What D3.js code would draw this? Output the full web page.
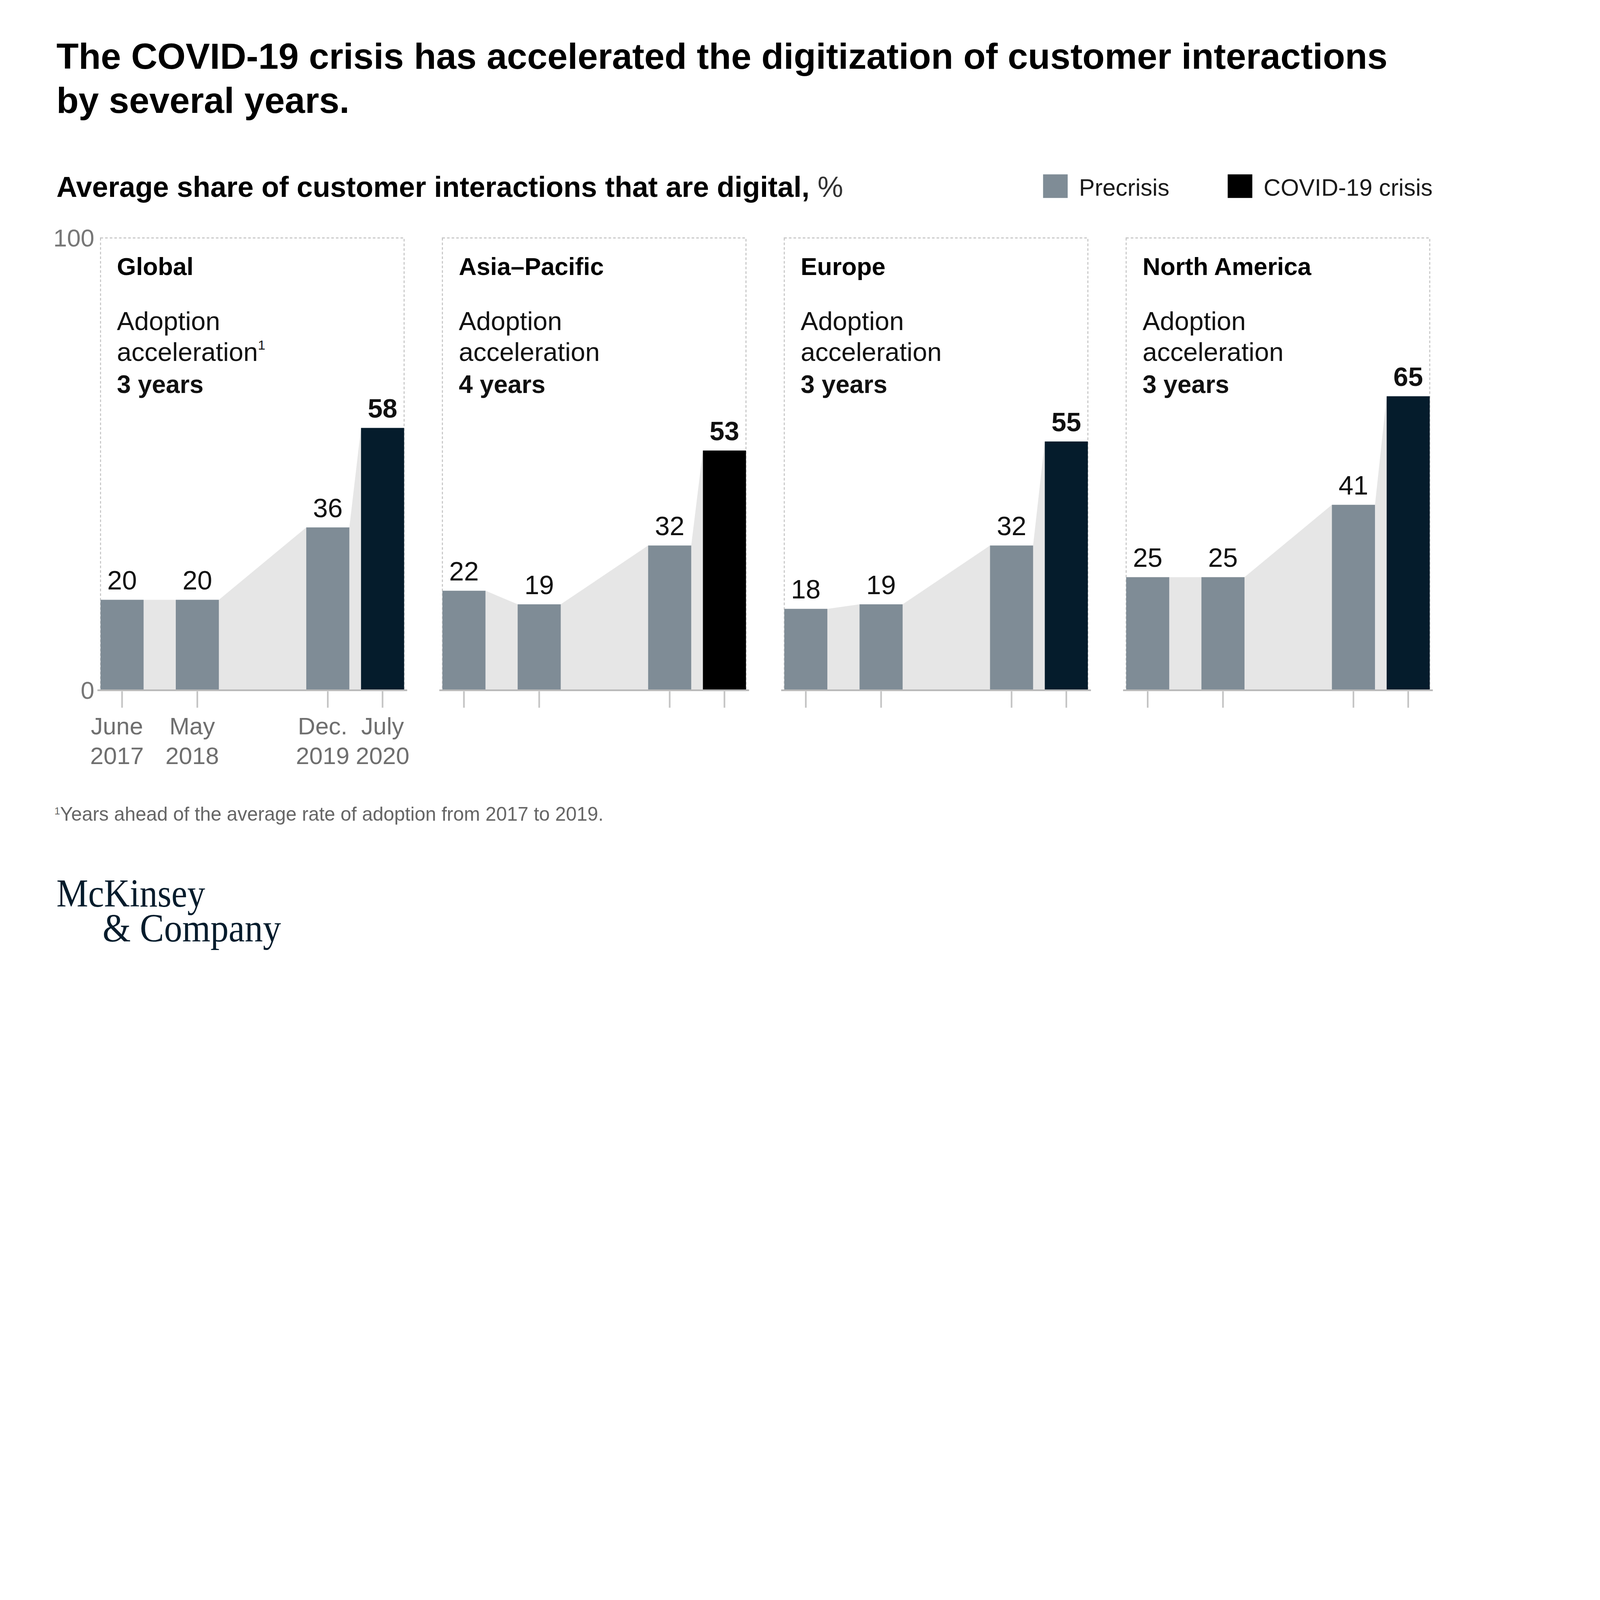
<!doctype html>
<html>
<head>
<meta charset="utf-8">
<title>COVID-19 and the digitization of customer interactions</title>
<script src="https://cdn.jsdelivr.net/npm/d3@7"></script>
<style>
  html, body { margin: 0; padding: 0; background: #fff; width: 100%; height: 100%; overflow: hidden; }
  svg { display: block; width: 100vw; height: 100vh; }
  text { font-family: "Liberation Sans", Arial, sans-serif; }
  text.logo { font-family: "Liberation Serif", "DejaVu Serif", serif; }
</style>
</head>
<body>
<svg id="chart" viewBox="0 0 1560 939.35" preserveAspectRatio="xMidYMin meet"></svg>
<script>
// data
var regions = ['Global', 'Asia\u2013Pacific', 'Europe', 'North America'];
var acceleration = ['3 years', '4 years', '3 years', '3 years'];
var surveyDates = ['2017-06-01', '2018-05-01', '2019-12-01', '2020-07-31'];
var tickLabels = [['June', '2017'], ['May', '2018'], ['Dec.', '2019'], ['July', '2020']];
var precrisis = [[20, 20, 36], [22, 19, 32], [18, 19, 32], [25, 25, 41]];
var covidCrisis = [58, 53, 55, 65];
var yTicks = [0, 100];
var legendLabels = ['Precrisis', 'COVID-19 crisis'];

var grey = '#7f8c96';
var navy = '#051c2c';
var covidColors = [navy, '#000000', navy, navy];

var svg = d3.select('#chart');
var parse = d3.timeParse('%Y-%m-%d');

function fitWidth(sel, w) {
  var len = sel.node().getComputedTextLength();
  var fs = parseFloat(sel.attr('font-size'));
  sel.attr('font-size', fs * w / len);
  return fs * w / len;
}

// title
var t1 = svg.append('text').attr('x', 55).attr('y', 67)
  .attr('font-size', 34).attr('font-weight', 700).attr('fill', '#000')
  .text('The COVID-19 crisis has accelerated the digitization of customer interactions');
var titleSize = fitWidth(t1, 1298);
svg.append('text').attr('x', 55).attr('y', 110)
  .attr('font-size', titleSize).attr('font-weight', 700).attr('fill', '#000')
  .text('by several years.');

// subtitle
var sub = svg.append('text').attr('x', 55).attr('y', 192)
  .attr('font-size', 26).attr('fill', '#000');
sub.append('tspan').attr('font-weight', 700).text('Average share of customer interactions that are digital,');
sub.append('tspan').attr('fill', '#333').text(' %');
fitWidth(sub, 767);

// legend
var legendX = [1017, 1197];
var legend = svg.append('g').selectAll('g').data(legendLabels).join('g')
  .attr('transform', function(d, i) { return 'translate(' + legendX[i] + ',170)'; });
legend.append('rect').attr('width', 24).attr('height', 23)
  .attr('fill', function(d, i) { return i === 0 ? grey : '#000'; });
legend.append('text').attr('x', 35).attr('y', 21).attr('font-size', 23)
  .attr('fill', '#1a1a1a').text(function(d) { return d; });

// scales
var y = d3.scaleLinear().domain([0, 100]).range([673, 232]);
var panelX = d3.scaleBand().domain(regions).range([98, 1394]).paddingInner(0.112);
var pw = panelX.bandwidth();
var barW = 42;
var x = d3.scaleTime()
  .domain([parse(surveyDates[0]), parse(surveyDates[surveyDates.length - 1])])
  .range([barW / 2, pw - barW / 2]);

// y axis labels
var yAxis = svg.append('g').attr('transform', 'translate(96,0)')
  .call(d3.axisLeft(y).tickValues(yTicks).tickSize(0).tickPadding(4));
yAxis.select('.domain').remove();
yAxis.selectAll('text').attr('font-size', 24).attr('fill', '#777');

var area = d3.area()
  .x(function(p) { return p[0]; })
  .y0(y(0))
  .y1(function(p) { return y(p[1]); });

regions.forEach(function(region, r) {
  var vals = precrisis[r].concat([covidCrisis[r]]);
  var bars = vals.map(function(v, i) {
    return { date: parse(surveyDates[i]), value: v, covid: i === vals.length - 1 };
  });
  var g = svg.append('g').attr('transform', 'translate(' + panelX(region) + ',0)');

  // dashed frame
  g.append('rect').attr('x', 0).attr('y', y(100))
    .attr('width', pw).attr('height', y(0) - y(100))
    .attr('fill', 'none').attr('stroke', '#c4c4c4').attr('stroke-width', 1)
    .attr('stroke-dasharray', '2.5,2');

  // connecting area
  var pts = [];
  bars.forEach(function(b) {
    pts.push([x(b.date) - barW / 2, b.value]);
    pts.push([x(b.date) + barW / 2, b.value]);
  });
  g.append('path').attr('d', area(pts)).attr('fill', '#e6e6e6');

  // bars
  g.selectAll('rect.bar').data(bars).join('rect').attr('class', 'bar')
    .attr('x', function(b) { return x(b.date) - barW / 2; })
    .attr('y', function(b) { return y(b.value); })
    .attr('width', barW)
    .attr('height', function(b) { return y(0) - y(b.value); })
    .attr('fill', function(b) { return b.covid ? covidColors[r] : grey; });

  // baseline and ticks
  g.append('line').attr('x1', -3).attr('x2', pw + 3).attr('y1', y(0)).attr('y2', y(0))
    .attr('stroke', '#b8b8b8').attr('stroke-width', 1.6);
  g.selectAll('line.tick').data(bars).join('line').attr('class', 'tick')
    .attr('x1', function(b) { return x(b.date); }).attr('x2', function(b) { return x(b.date); })
    .attr('y1', y(0) + 1).attr('y2', y(0) + 17)
    .attr('stroke', '#c4c4c4').attr('stroke-width', 1.6);

  // value labels
  g.selectAll('text.val').data(bars).join('text').attr('class', 'val')
    .attr('x', function(b) { return x(b.date); })
    .attr('y', function(b) { return y(b.value) - 10; })
    .attr('text-anchor', 'middle').attr('font-size', 26)
    .attr('font-weight', function(b) { return b.covid ? 700 : 400; })
    .attr('fill', '#111')
    .text(function(b) { return b.value; });

  // panel text
  g.append('text').attr('x', 16).attr('y', 268).attr('font-size', 24)
    .attr('font-weight', 700).attr('fill', '#000').text(region);
  g.append('text').attr('x', 16).attr('y', 322).attr('font-size', 25.5)
    .attr('fill', '#111').text('Adoption');
  var acc = g.append('text').attr('x', 16).attr('y', 352).attr('font-size', 25.5)
    .attr('fill', '#111').text('acceleration');
  if (r === 0) {
    acc.append('tspan').attr('font-size', 13).attr('dy', -11).text('1');
  }
  g.append('text').attr('x', 16).attr('y', 383).attr('font-size', 24.5)
    .attr('font-weight', 700).attr('fill', '#111').text(acceleration[r]);

  // x labels, first panel only
  if (r === 0) {
    var lab = g.selectAll('text.xl').data(bars).join('text').attr('class', 'xl')
      .attr('text-anchor', 'middle').attr('font-size', 23.5).attr('fill', '#6f6f6f');
    lab.append('tspan').attr('x', function(b, i) { return x(b.date) - (i < 3 ? 5 : 0); }).attr('y', 716)
      .text(function(b, i) { return tickLabels[i][0]; });
    lab.append('tspan').attr('x', function(b, i) { return x(b.date) - (i < 3 ? 5 : 0); }).attr('y', 745)
      .text(function(b, i) { return tickLabels[i][1]; });
  }
});

// footnote
var fn = svg.append('text').attr('x', 53).attr('y', 800).attr('font-size', 17).attr('fill', '#666');
fn.append('tspan').attr('font-size', 10).attr('dy', -6).text('1');
fn.append('tspan').attr('dy', 6).text('Years ahead of the average rate of adoption from 2017 to 2019.');
fitWidth(fn, 536);

// logo
svg.append('text').attr('class', 'logo').attr('x', 55).attr('y', 884)
  .attr('font-size', 39).attr('fill', navy)
  .attr('textLength', 145).attr('lengthAdjust', 'spacingAndGlyphs').text('McKinsey');
svg.append('text').attr('class', 'logo').attr('x', 100).attr('y', 918)
  .attr('font-size', 39).attr('fill', navy)
  .attr('textLength', 174).attr('lengthAdjust', 'spacingAndGlyphs').text('& Company');
</script>
</body>
</html>
